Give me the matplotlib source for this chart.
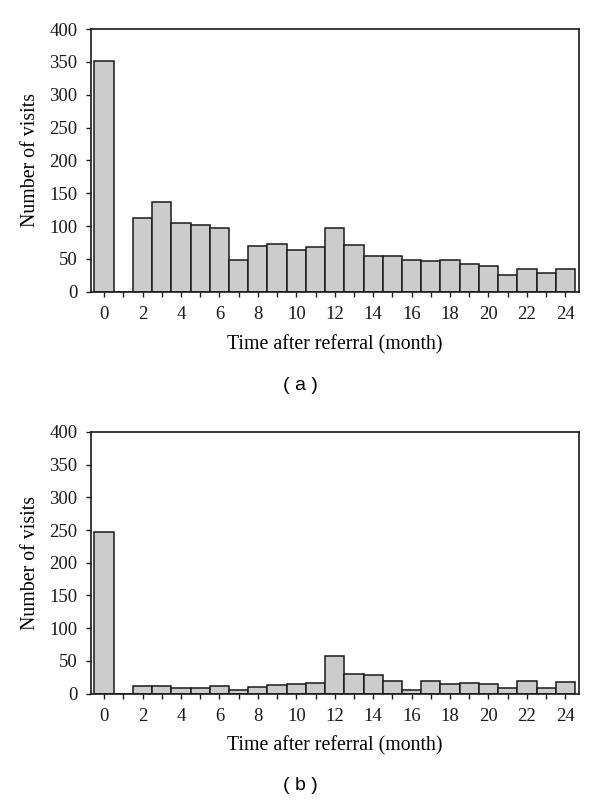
import matplotlib
matplotlib.use('Agg')
import matplotlib.pyplot as plt
import numpy as np

# Months after referral, 0..24
months = list(range(25))

# Panel (a): number of visits per month
visits_a = [352, 0, 113, 136, 105, 101, 97, 49, 69, 73, 64, 68, 97,
            71, 55, 55, 49, 47, 49, 42, 39, 25, 34, 28, 34]

# Panel (b): number of visits per month
visits_b = [247, 0, 12, 12, 8, 8, 12, 6, 10, 13, 15, 17, 58,
            30, 29, 20, 6, 19, 15, 17, 15, 9, 19, 8, 18]

y_ticks = [0, 50, 100, 150, 200, 250, 300, 350, 400]
x_labels = [0, 2, 4, 6, 8, 10, 12, 14, 16, 18, 20, 22, 24]

serif = ['Liberation Serif', 'DejaVu Serif']
sans = ['Liberation Sans', 'DejaVu Sans']

fig = plt.figure(figsize=(6.0, 8.06), dpi=100)


def draw_panel(ax, values):
    ax.bar(months, values, width=1.0, color='#cccccc',
           edgecolor='#1a1a1a', linewidth=1.1)
    ax.set_xlim(-0.68, 24.7)
    ax.set_ylim(0, 400)
    ax.set_yticks(y_ticks)
    ax.set_xticks(months)
    ax.set_xticklabels([str(m) if m in x_labels else '' for m in months])
    ax.tick_params(axis='both', direction='out', length=3.6, width=1.0,
                   colors='#1a1a1a', labelsize=13.5)
    ax.tick_params(axis='y', pad=6)
    ax.tick_params(axis='x', pad=7)
    for lab in ax.get_xticklabels() + ax.get_yticklabels():
        lab.set_fontfamily(serif)
    for sp in ax.spines.values():
        sp.set_linewidth(1.2)
        sp.set_color('#1a1a1a')
    ax.set_ylabel('Number of visits', fontsize=14.3, family=serif, labelpad=7)
    ax.set_xlabel('Time after referral (month)', fontsize=14.3, family=serif,
                  labelpad=8)


ax_a = fig.add_axes([0.1517, 0.638, 0.813, 0.326])
draw_panel(ax_a, visits_a)

ax_b = fig.add_axes([0.1517, 0.1393, 0.813, 0.325])
draw_panel(ax_b, visits_b)

fig.text(0.5, 1 - 385 / 806, '( a )', ha='center', va='center',
         fontsize=14, family=sans)
fig.text(0.5, 1 - 786 / 806, '( b )', ha='center', va='center',
         fontsize=14, family=sans)

fig.savefig('out.png', dpi=100)
